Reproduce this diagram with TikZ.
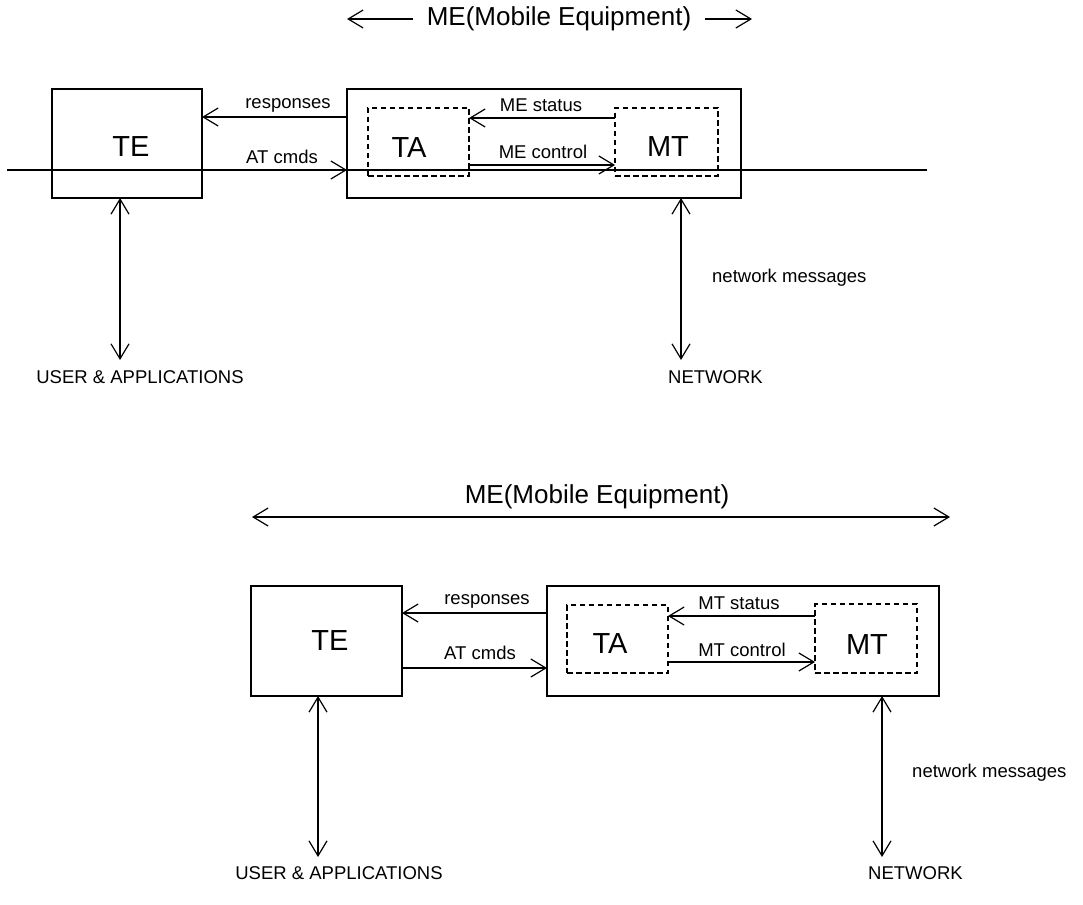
\documentclass[tikz,border=0pt]{standalone}
\usepackage{fontspec}
\setmainfont{Liberation Sans}
\usetikzlibrary{arrows.meta}
\tikzset{
  frame/.style={draw, line width=1.3pt, inner sep=0pt, outer sep=0pt, rectangle},
  dashbox/.style={draw, line width=1.3pt, dash pattern=on 5.5pt off 3.5pt, inner sep=0pt, outer sep=0pt, rectangle},
  arr/.style={line width=1.2pt, -{Straight Barb[length=15pt,width=18pt,line width=1.2pt]}},
  dbl/.style={line width=1.2pt, {Straight Barb[length=15pt,width=18pt,line width=1.2pt]}-{Straight Barb[length=15pt,width=18pt,line width=1.2pt]}},
  big/.style={font=\fontsize{29}{32}\selectfont},
  ttl/.style={font=\fontsize{26}{29}\selectfont, inner sep=0pt},
  lbl/.style={font=\fontsize{18.5}{20}\selectfont, inner sep=0pt},
}
\begin{document}
\begin{tikzpicture}[x=1pt,y=-1pt]
\useasboundingbox (0,0) rectangle (1083,904);

% ---------------- upper arrangement ----------------
\node[ttl] (t1) at (559,19) {ME(Mobile Equipment)};
\coordinate (t1l) at (347,19);
\coordinate (t1r) at (752,19);
\coordinate (t1a) at (413,19);
\coordinate (t1b) at (705,19);
\draw[arr] (t1a) -- (t1l);
\draw[arr] (t1b) -- (t1r);

\node[frame, minimum width=150pt, minimum height=109pt] (te1) at (127,143.5) {};
\node[big] at (131,147) {TE};
\node[frame, minimum width=394pt, minimum height=109pt] (me1) at (544,143.5) {};
\node[dashbox, minimum width=101pt, minimum height=68pt] (ta1) at (418.5,142) {};
\node[big] at (409,148) {TA};
\node[dashbox, minimum width=103pt, minimum height=68pt] (mt1) at (666.5,142) {};
\node[big] at (668,147) {MT};

% interface line through both units
\coordinate (bl) at (7,170);
\coordinate (br) at (927,170);
\draw[line width=1.6pt] (bl) -- (br);
\draw[arr] (te1.east |- bl) -- (me1.west |- bl);
\node[lbl] at (282,157) {AT cmds};
\draw[arr] (me1.west |- 0,117) -- (te1.east |- 0,117);
\node[lbl] at (288,105) {responses};

\draw[arr] (mt1.west |- 0,118) -- (ta1.east |- 0,118);
\node[lbl] at (541,105) {ME status};
\draw[arr] (ta1.east |- 0,165) -- (mt1.west |- 0,165);
\node[lbl] at (543,152) {ME control};

\node[lbl, anchor=west] (nm1) at (712,278) {network messages};
\node[lbl] (ua1) at (140,377) {USER \& APPLICATIONS};
\node[lbl, anchor=west] (nw1) at (668,377) {NETWORK};
\coordinate (u1) at (120,360);
\coordinate (n1) at (681,360);
\draw[dbl] (te1.south -| u1) -- (u1);
\draw[dbl] (me1.south -| n1) -- (n1);

% ---------------- lower arrangement ----------------
\coordinate (t2l) at (252,517);
\coordinate (t2r) at (950,517);
\draw[dbl] (t2l) -- (t2r);
\node[ttl] (t2) at (597,497) {ME(Mobile Equipment)};

\node[frame, minimum width=151pt, minimum height=110pt] (te2) at (326.5,641) {};
\node[big] at (330,641) {TE};
\node[frame, minimum width=392pt, minimum height=110pt] (me2) at (743,641) {};
\node[dashbox, minimum width=101pt, minimum height=68pt] (ta2) at (617.5,639) {};
\node[big] at (610,644) {TA};
\node[dashbox, minimum width=102pt, minimum height=69pt] (mt2) at (866,638.5) {};
\node[big] at (867,645) {MT};

\draw[arr] (me2.west |- 0,613) -- (te2.east |- 0,613);
\node[lbl] at (487,601) {responses};
\draw[arr] (te2.east |- 0,668) -- (me2.west |- 0,668);
\node[lbl] at (480,653) {AT cmds};

\draw[arr] (mt2.west |- 0,616) -- (ta2.east |- 0,616);
\node[lbl] at (739,603) {MT status};
\draw[arr] (ta2.east |- 0,662) -- (mt2.west |- 0,662);
\node[lbl] at (742,650) {MT control};

\node[lbl, anchor=west] (nm2) at (912,773) {network messages};
\node[lbl] (ua2) at (339,873) {USER \& APPLICATIONS};
\node[lbl, anchor=west] (nw2) at (868,873) {NETWORK};
\coordinate (u2) at (318,857);
\coordinate (n2) at (882,857);
\draw[dbl] (te2.south -| u2) -- (u2);
\draw[dbl] (me2.south -| n2) -- (n2);
\end{tikzpicture}
\end{document}
